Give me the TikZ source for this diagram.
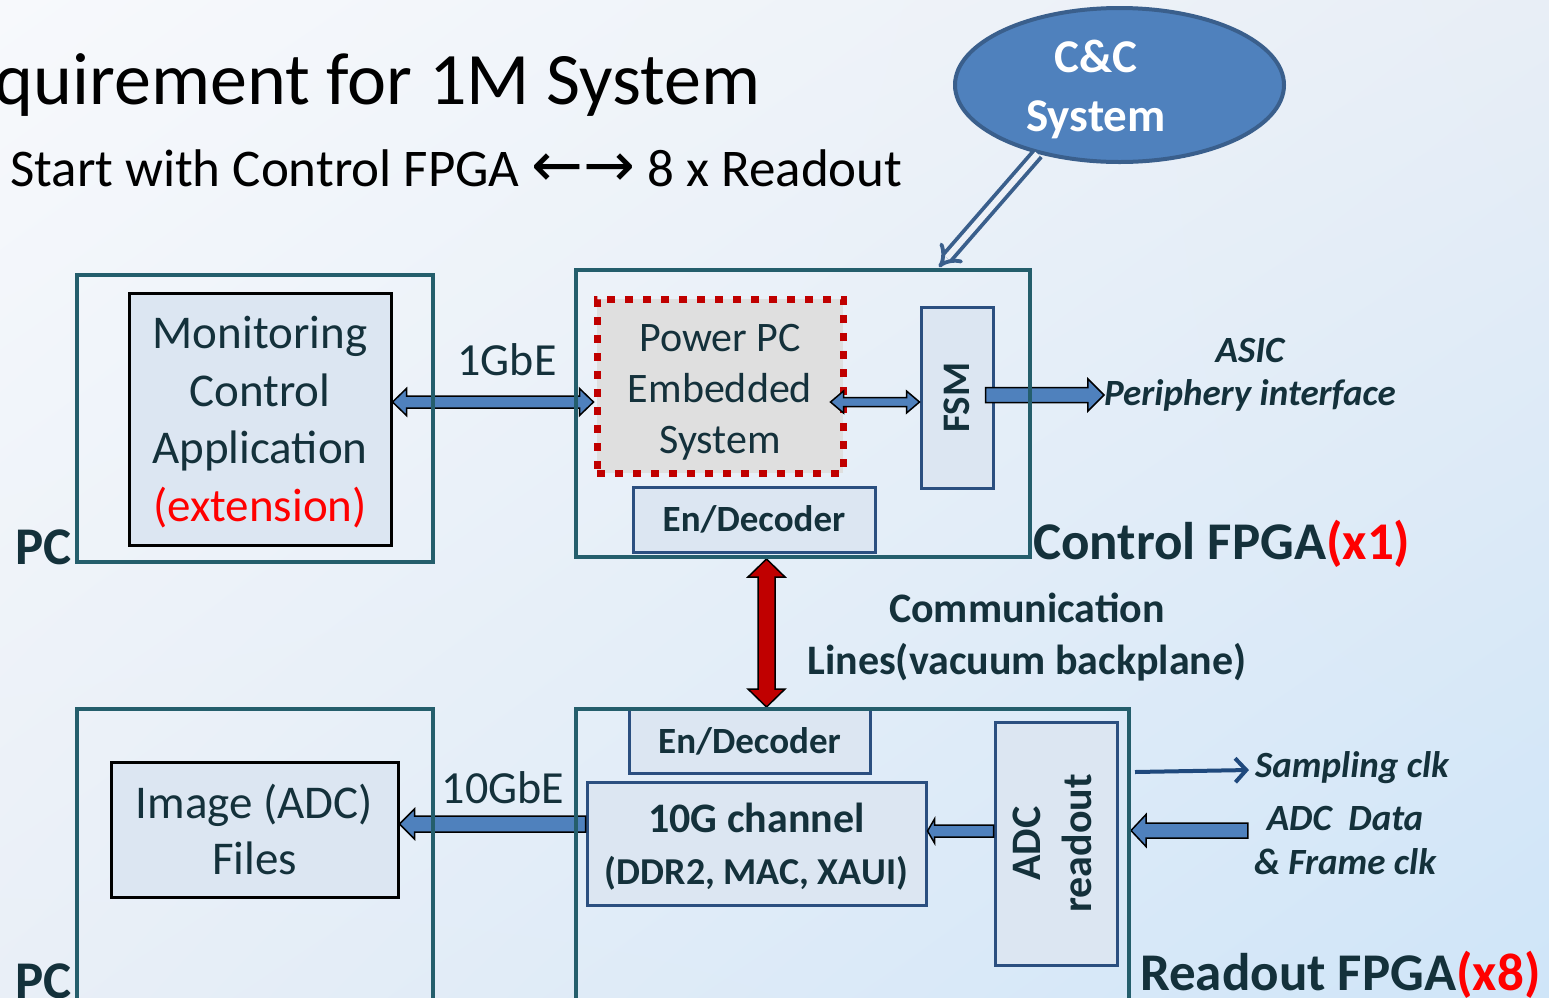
\documentclass[tikz,border=0pt]{standalone}
\usepackage{fontspec}
\setmainfont{Carlito}
\newfontfamily\arrowfont{DejaVu Sans}
\usetikzlibrary{calc,arrows.meta,shapes.geometric,shadings,positioning}

\definecolor{txtdark}{HTML}{14313B}
\definecolor{boxteal}{HTML}{245E6C}
\definecolor{boxnavy}{HTML}{2B4F80}
\definecolor{boxfill}{HTML}{DCE6F2}
\definecolor{ppcfill}{HTML}{DFDFDF}
\definecolor{dotred}{HTML}{C00000}
\definecolor{arrblue}{HTML}{4F81BD}
\definecolor{ccedge}{HTML}{3A5F8C}
\definecolor{clkblue}{HTML}{1F497D}
\definecolor{bgA}{HTML}{F7F9FC}
\definecolor{bgB}{HTML}{E8EEF6}
\definecolor{bgC}{HTML}{E9EFF7}
\definecolor{bgD}{HTML}{CFE5F8}
\definecolor{bgMid}{HTML}{EDF1F7}

\pgfdeclarelayer{front}
\pgfsetlayers{main,front}

\tikzset{
  every node/.style={text=txtdark},
  outerbox/.style={draw=boxteal, line width=4pt, inner sep=0pt},
  appbox/.style={draw=black, line width=3pt, fill=boxfill, align=center, inner sep=0pt},
  logicbox/.style={draw=boxnavy, line width=3pt, fill=boxfill, align=center, inner sep=0pt,
    font=\bfseries\fontsize{37}{44}\selectfont},
  blockarr/.style={draw=black, line width=1.5pt, fill=arrblue, line join=miter},
  sidelabel/.style={font=\bfseries\itshape\fontsize{37}{44}\selectfont, inner sep=0pt},
  fpgalabel/.style={font=\bfseries\fontsize{53}{60}\selectfont, inner sep=0pt},
  linklabel/.style={font=\fontsize{46}{50}\selectfont, inner sep=0pt},
}

% fat arrows: [opts]{from}{to}{half shaft}{half head}{head length}
\newcommand{\onearrow}[6][]{%
  \path[blockarr,#1] let \p1=(#2), \p2=(#3),
    \n1={atan2(\y2-\y1,\x2-\x1)}, \n2={veclen(\x2-\x1,\y2-\y1)} in
    [shift={(\p1)}, rotate=\n1]
    (0,-#4) -- (\n2-#6,-#4) -- (\n2-#6,-#5) -- (\n2,0) -- (\n2-#6,#5) -- (\n2-#6,#4) -- (0,#4) -- cycle;}
\newcommand{\dblarrow}[6][]{%
  \path[blockarr,#1] let \p1=(#2), \p2=(#3),
    \n1={atan2(\y2-\y1,\x2-\x1)}, \n2={veclen(\x2-\x1,\y2-\y1)} in
    [shift={(\p1)}, rotate=\n1]
    (0,0) -- (#6,-#5) -- (#6,-#4) -- (\n2-#6,-#4) -- (\n2-#6,-#5) -- (\n2,0)
    -- (\n2-#6,#5) -- (\n2-#6,#4) -- (#6,#4) -- (#6,#5) -- cycle;}

\begin{document}
\begin{tikzpicture}[x=1pt,y=-1pt]
  \useasboundingbox (0,0) rectangle (1549,997);
  \shade[upper left=bgA, upper right=bgB, lower left=bgC, lower right=bgD] (0,0) rectangle (1549,997);

  % headings
  \node[anchor=base east, inner sep=0pt, text=black, font=\fontsize{74}{80}\selectfont] (title) at (761,104) {quirement for 1M System};
  \node[anchor=base west, inner sep=0pt, text=black, font=\fontsize{53}{60}\selectfont] (subtitle) at (10,186)
    {Start with Control FPGA {\arrowfont\fontsize{62}{60}\selectfont ←→} 8 x Readout};

  % the four big blocks
  \begin{pgfonlayer}{front}
    \node[outerbox, minimum width=356pt, minimum height=287pt] (pc1) at (255,418.5) {};
    \node[outerbox, minimum width=454pt, minimum height=287pt] (ctrl) at (803,413.5) {};
    \node[outerbox, minimum width=356pt, minimum height=302pt] (pc2) at (255,860) {};
    \node[outerbox, minimum width=553pt, minimum height=302pt] (rdo) at (852.5,860) {};
  \end{pgfonlayer}
  \node[fpgalabel, anchor=base east] (pc1name) at ([xshift=-3pt]pc1.south west) {PC};
  \node[fpgalabel, anchor=base east] (pc2name) at (72,998) {PC};
  \node[fpgalabel, anchor=base west] (ctrlname) at ([xshift=1pt]ctrl.south east) {Control FPGA\textcolor{red}{(x1)}};
  \node[fpgalabel, anchor=base west] (rdoname) at (1140,990) {Readout FPGA\textcolor{red}{(x8)}};

  % PC side
  \node[appbox, minimum width=262pt, minimum height=252pt] (mon) at (260,419) {};
  \node[align=center, font=\fontsize{47}{57.5}\selectfont] (montext) at (260,422)
    {Monitoring\\Control\\Application\\\textcolor{red}{(extension)}};
  \node[appbox, minimum width=287pt, minimum height=135pt, font=\fontsize{47}{56}\selectfont] (img) at (254.5,829.5)
    {Image (ADC)\\Files};

  % control FPGA
  \node[draw=dotred, line width=7pt, dash pattern=on 8pt off 10pt, fill=ppcfill, minimum width=246pt, minimum height=174pt,
    inner sep=0pt] (ppc) at (720,386) {};
  \node[align=center, font=\fontsize{42}{51}\selectfont] (ppctext) at (720,392) {Power PC\\Embedded\\System};
  \node[logicbox, minimum width=72pt, minimum height=181pt, font=\bfseries\fontsize{39}{44}\selectfont] (fsm) at (957,397.5) {\rotatebox{90}{FSM}};
  \node[logicbox, minimum width=242pt, minimum height=65pt] (enc1) at (754,519.5) {En/Decoder};

  % readout FPGA
  \node[logicbox, minimum width=241pt, minimum height=64pt] (enc2) at (749.5,741) {En/Decoder};
  \node[logicbox, minimum width=339pt, minimum height=123pt] (ten) at (756.5,843.5) {};
  \node[align=center, font=\bfseries\fontsize{42}{52}\selectfont] (tentext) at (756.5,847)
    {10G channel\\{\fontsize{38}{52}\selectfont(DDR2, MAC, XAUI)}};
  \node[logicbox, minimum width=122pt, minimum height=243pt, font=\bfseries\fontsize{42}{51}\selectfont] (adc) at (1056,843.5)
    {\rotatebox{90}{\begin{tabular}{@{}c@{}}ADC\\readout\end{tabular}}};

  % C&C
  \node[ellipse, draw=ccedge, line width=4pt, fill=arrblue, minimum width=329pt, minimum height=154pt] (cc) at (1119.5,85) {};
  \node[text=white, align=center, font=\bfseries\fontsize{47}{59}\selectfont] (cclabel) at (1096,89) {C\&C\\System};
  \coordinate (ccin) at (939,267);
  \draw[draw=ccedge, line width=3.8pt, double=bgMid, double distance=6pt, -{Implies}] (cc.220) -- (ccin);

  % labels
  \node[linklabel] (gbe) at (507,360) {1GbE};
  \node[linklabel] (tengbe) at (503,788) {10GbE};
  \node[sidelabel] (asic) at (1250,350) {ASIC};
  \node[sidelabel] (periph) at (1250,395) {Periphery interface};
  \node[font=\bfseries\fontsize{42}{52}\selectfont, align=center] (bus) at (1027,637) {Communication\\Lines(vacuum backplane)};
  \node[sidelabel] (samp) at (1352,768) {Sampling clk};
  \node[sidelabel, align=center] (adcdata) at (1345,840) {ADC~~Data\\\& Frame clk};

  % links
  \coordinate (gbelink) at ($(mon.east)+(0,-17)$);
  \dblarrow{gbelink}{ppc.west |- gbelink}{6}{13.5}{14}
  \dblarrow{$(ppc.east |- gbelink)+(-16,0)$}{fsm.west |- gbelink}{4.5}{11}{13}
  \onearrow{$(fsm.east |- periph.west)+(-9,0)$}{periph.west}{7.5}{16}{16}
  \dblarrow[fill=dotred]{[xshift=-36.5pt]ctrl.south}{[xshift=-86pt]rdo.north}{8.5}{18.5}{18}
  \coordinate (tenlink) at ($(img.east)+(0,-5.5)$);
  \onearrow{ten.west |- tenlink}{tenlink}{8}{15}{15}
  \coordinate (adclink) at ($(adc.west)+(0,-12.5)$);
  \onearrow{adclink}{ten.east |- adclink}{6}{12}{7}
  \coordinate (datain) at ($(adcdata.west)+(-6,-9.5)$);
  \onearrow{datain}{rdo.east |- datain}{7.5}{16}{15}
  \draw[draw=clkblue, line width=4pt, -{Straight Barb[length=11pt,width=24pt]}]
    ($(rdo.east |- samp.west)+(4,4)$) -- ($(samp.west)+(-6,2)$);
\end{tikzpicture}
\end{document}
